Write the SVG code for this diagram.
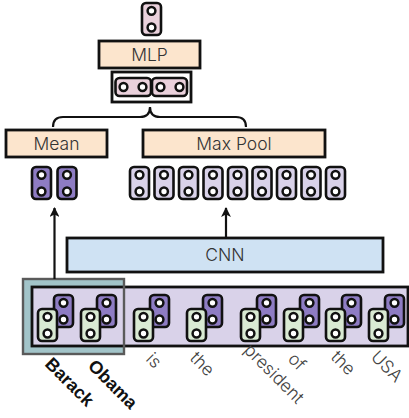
<svg xmlns="http://www.w3.org/2000/svg" width="409" height="418" viewBox="0 0 409 418">
<style>
.box{stroke:#111;stroke-width:2.8}
.peach{fill:#fce5cd}
.vec{stroke:#111;stroke-width:2.6;rx:4;ry:4}
.pink{fill:#ead1dc}
.dp{fill:#8e7cc3}
.lp{fill:#d9d2e9}
.gr{fill:#d9ead3}
.dot{fill:#fff;stroke:#111;stroke-width:2.5}
.t{font-family:Inter,"Liberation Sans",Arial,sans-serif;font-weight:300;font-size:17.5px;fill:#333;text-anchor:middle}
.lab{font-family:Inter,"Liberation Sans",Arial,sans-serif;font-weight:300;font-size:17.5px;fill:#444}
.bold{font-family:"Liberation Sans",Arial,sans-serif;font-size:18px;font-weight:bold;fill:#111}
.conn{fill:none;stroke:#111;stroke-width:2.2}
</style>
<defs>
<g id="v"><rect class="vec" x="0" y="0" width="19" height="32"/><circle class="dot" cx="9.5" cy="7.8" r="3.9"/><circle class="dot" cx="9.5" cy="24.5" r="3.9"/></g>
<marker id="ah" viewBox="0 0 10 10" refX="9" refY="5" markerWidth="4.5" markerHeight="4.5" orient="auto" markerUnits="strokeWidth"><path d="M0,0 L10,5 L0,10 L2.5,5 Z" fill="#111"/></marker>
</defs>

<g id="output"><use href="#v" x="142" y="3" class="pink"/></g>

<g id="mlp"><rect class="box peach" x="99" y="41" width="101" height="27"/><text class="t" x="149.5" y="61">MLP</text></g>

<g id="concat">
<rect class="box" x="112" y="72" width="79" height="30" fill="#fff"/>
<rect class="vec pink" x="115.5" y="78" width="35.5" height="18"/>
<rect class="vec pink" x="152" y="78" width="35" height="18"/>
<circle class="dot" cx="123.5" cy="87" r="3.9"/><circle class="dot" cx="142.5" cy="87" r="3.9"/>
<circle class="dot" cx="160.5" cy="87" r="3.9"/><circle class="dot" cx="179.5" cy="87" r="3.9"/>
</g>

<g id="mean"><rect class="box peach" x="6" y="130" width="101" height="27"/><text class="t" x="56.5" y="150">Mean</text></g>
<g id="maxpool"><rect class="box peach" x="143" y="130" width="182" height="27"/><text class="t" x="234" y="150">Max Pool</text></g>

<g id="mean-vectors" class="dp"><use href="#v" x="32" y="167"/><use href="#v" x="57.5" y="167"/></g>
<g id="maxpool-vectors" class="lp">
<use href="#v" x="130" y="167"/><use href="#v" x="154.5" y="167"/><use href="#v" x="179" y="167"/><use href="#v" x="203.5" y="167"/><use href="#v" x="228" y="167"/><use href="#v" x="252.5" y="167"/><use href="#v" x="277" y="167"/><use href="#v" x="301.5" y="167"/><use href="#v" x="326" y="167"/>
</g>

<g id="cnn"><rect class="box" x="67" y="238" width="316" height="34" fill="#cfe2f3"/><text class="t" x="225" y="261">CNN</text></g>

<g id="entity-box"><rect x="23" y="279" width="101" height="75" fill="#a2c4c9"/></g>

<g id="tokens">
<rect class="box lp" x="32" y="287" width="376" height="59"/>
<g class="dp"><use href="#v" x="54" y="295"/><use href="#v" x="97" y="295"/><use href="#v" x="150" y="295"/><use href="#v" x="203" y="295"/><use href="#v" x="257" y="295"/><use href="#v" x="300" y="295"/><use href="#v" x="342" y="295"/><use href="#v" x="385" y="295"/></g>
<g class="gr"><use href="#v" x="38" y="309"/><use href="#v" x="81" y="309"/><use href="#v" x="134" y="309"/><use href="#v" x="187" y="309"/><use href="#v" x="241" y="309"/><use href="#v" x="284" y="309"/><use href="#v" x="326" y="309"/><use href="#v" x="369" y="309"/></g>
</g>
<rect x="23" y="279" width="101" height="75" fill="none" stroke="#5a5a5a" stroke-width="2.4"/>

<g id="labels">
<text class="lab bold" transform="translate(44,365) rotate(45)">Barack</text>
<text class="lab bold" transform="translate(87,367) rotate(45)">Obama</text>
<text class="lab" transform="translate(145,360) rotate(45)">is</text>
<text class="lab" transform="translate(189,359) rotate(45)">the</text>
<text class="lab" transform="translate(243,351) rotate(45)">president</text>
<text class="lab" transform="translate(287,360) rotate(45)">of</text>
<text class="lab" transform="translate(330,358) rotate(45)">the</text>
<text class="lab" transform="translate(370,358) rotate(45)">USA</text>
</g>

<g id="connectors">
<path class="conn" stroke-width="2.6" d="M53,127 Q53,117 63,117 L140,117 Q150,117 150,107 Q150,117 160,117 L236,117 Q246,117 246,127"/>
<line class="conn" x1="54.5" y1="279" x2="54.5" y2="208" marker-end="url(#ah)"/>
<line class="conn" x1="226" y1="238" x2="226" y2="208" marker-end="url(#ah)"/>
</g>
</svg>
